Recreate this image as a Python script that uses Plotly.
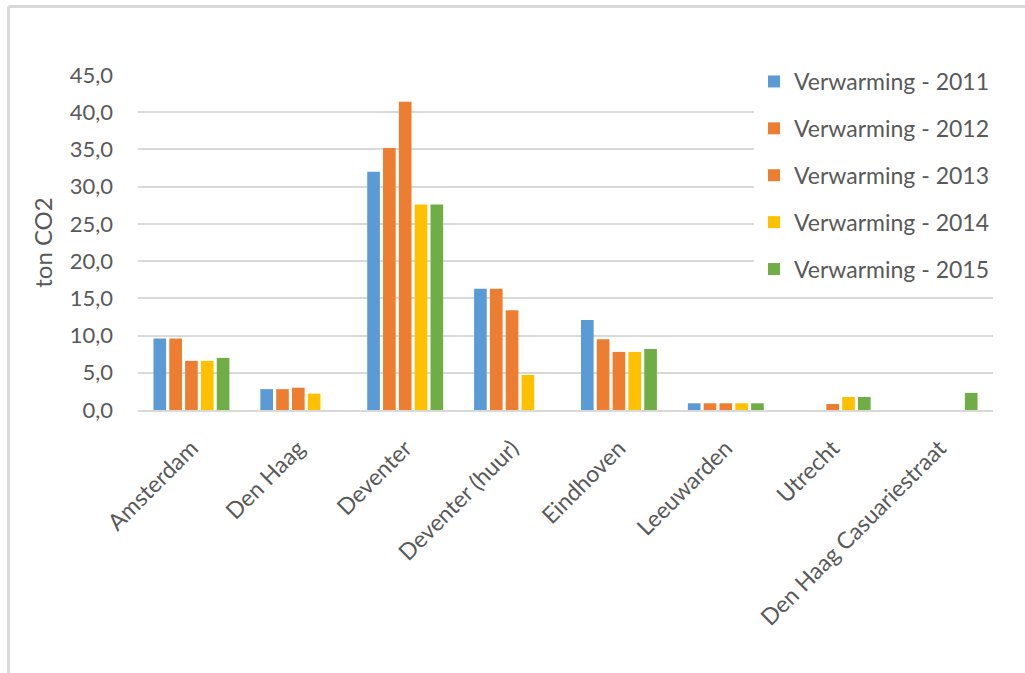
import plotly.graph_objects as go

categories = ["Amsterdam", "Den Haag", "Deventer", "Deventer (huur)", "Eindhoven",
              "Leeuwarden", "Utrecht", "Den Haag Casuariestraat"]
series_names = ["Verwarming - 2011", "Verwarming - 2012", "Verwarming - 2013",
                "Verwarming - 2014", "Verwarming - 2015"]
v2011 = [9.6, 2.8, 32.0, 16.3, 12.1, 0.9, None, None]
v2012 = [9.6, 2.8, 35.2, 16.3, 9.5, 0.9, None, None]
v2013 = [6.6, 3.0, 41.4, 13.4, 7.8, 0.9, 0.8, None]
v2014 = [6.6, 2.2, 27.6, 4.7, 7.8, 0.9, 1.75, None]
v2015 = [7.0, None, 27.6, None, 8.2, 0.9, 1.75, 2.3]
values = [v2011, v2012, v2013, v2014, v2015]
colors = ["#5B9BD5", "#ED7D31", "#ED7D31", "#FFC000", "#70AD47"]
y_ticks = [0, 5, 10, 15, 20, 25, 30, 35, 40, 45]

W, H = 1025, 673
L, R, T, B = 138, 993, 75, 410

fig = go.Figure()
for name, vals, col in zip(series_names, values, colors):
    fig.add_trace(go.Bar(x=categories, y=vals, name=name, marker_color=col,
                         marker_line_width=0, legendgroup=name))

font_family = "Lato"
text_col = "#595959"

def px_x(px):
    return (px - L) / (R - L)

def px_y(py):
    return (B - py) / (B - T)

fig.update_layout(
    width=W, height=H,
    margin=dict(l=L, r=W - R, t=T, b=H - B, autoexpand=False),
    paper_bgcolor="white", plot_bgcolor="white",
    separators=",.",
    barmode="group", bargap=0.26, bargroupgap=0.2,
    font=dict(family=font_family, color=text_col, size=20),
    legend=dict(x=px_x(754), y=px_y(60), xanchor="left", yanchor="top",
                bgcolor="white", font=dict(size=23, color=text_col),
                tracegroupgap=14, itemwidth=30),
    showlegend=True,
    xaxis=dict(showgrid=False, showline=True, linecolor="#d9d9d9", linewidth=1.5,
               ticks="", tickangle=-45, tickfont=dict(size=23, color=text_col),
               ticklabelstandoff=14),
    yaxis=dict(range=[0, 45], tickvals=y_ticks, tickformat=".1f",
               showgrid=True, gridcolor="#d9d9d9", gridwidth=1.5,
               zeroline=False, showline=False, ticks="",
               tickfont=dict(size=22, color=text_col), ticklabelstandoff=24,
               title=dict(text="ton CO2", font=dict(size=24, color=text_col), standoff=10)),
    shapes=[
        dict(type="line", xref="paper", yref="paper", x0=px_x(8.5), x1=px_x(1030),
             y0=px_y(6.5), y1=px_y(6.5), line=dict(color="#d9d9d9", width=3)),
        dict(type="line", xref="paper", yref="paper", x0=px_x(8.5), x1=px_x(8.5),
             y0=px_y(6.5), y1=px_y(680), line=dict(color="#d9d9d9", width=3)),
    ],
)

fig.write_html("out.html")
